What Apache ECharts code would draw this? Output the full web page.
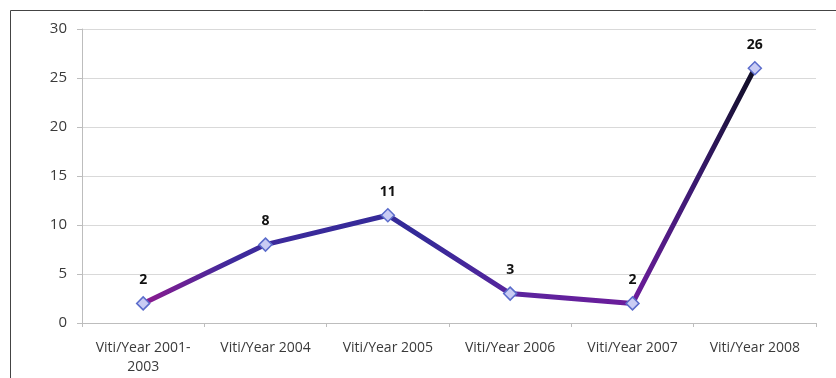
<!DOCTYPE html>
<html><head><meta charset="utf-8">
<script src="https://cdn.jsdelivr.net/npm/echarts@6/dist/echarts.min.js"></script>
<style>html,body{margin:0;padding:0;background:#fff}#c{width:836px;height:378px}</style>
</head><body><div id="c"></div>
<script>
const categories = ["Viti/Year 2001-2003","Viti/Year 2004","Viti/Year 2005","Viti/Year 2006","Viti/Year 2007","Viti/Year 2008"];
const values = [2, 8, 11, 3, 2, 26];
const yTicks = [0, 5, 10, 15, 20, 25, 30];

const chart = echarts.init(document.getElementById('c'));
chart.setOption({
  animation: false,
  grid: {left: 82, right: 20, top: 29, bottom: 55},
  graphic: [{type:'rect', shape:{x:10.5,y:10.5,width:840,height:400}, style:{fill:'none', stroke:'#444', lineWidth:1}, silent:true}],
  xAxis: {
    type: 'category', data: categories, boundaryGap: true,
    axisLine: {lineStyle: {color: '#bdbdbd'}},
    axisTick: {show: true, interval: 0, length: 4, lineStyle: {color: '#bdbdbd'}},
    axisLabel: {interval: 0, hideOverlap: false, color: '#3a3a3a', fontFamily: 'Open Sans', fontSize: 14, margin: 16, lineHeight: 19,
      formatter: v => v.replace('2001-', '2001-\n')}
  },
  yAxis: {
    type: 'value', min: yTicks[0], max: yTicks[yTicks.length-1], interval: 5,
    axisLine: {show: true, lineStyle: {color: '#bdbdbd'}},
    axisTick: {show: true, length: 5, lineStyle: {color: '#bdbdbd'}},
    splitLine: {lineStyle: {color: '#d9d9d9'}},
    axisLabel: {color: '#3a3a3a', fontFamily: 'Open Sans', fontSize: 15, margin: 15}
  },
  series: [{
    type: 'line', data: values,
    symbol: 'diamond', symbolSize: 13,
    itemStyle: {color: '#c9ccf4', borderColor: '#5b6ccb', borderWidth: 1.5},
    lineStyle: {width: 5, color: new echarts.graphic.LinearGradient(0, 0, 1, 0, [
      {offset: 0, color: '#8e1a8e'},
      {offset: 0.15, color: '#3e2a9c'},
      {offset: 0.45, color: '#332a98'},
      {offset: 0.62, color: '#5c249e'},
      {offset: 0.8, color: '#6c1c9a'},
      {offset: 0.9, color: '#3a1a70'},
      {offset: 1, color: '#0d0d20'}
    ])},
    label: {show: true, position: 'top', distance: 9, color: '#111', fontWeight: 'bold', fontFamily: 'Open Sans', fontSize: 14}
  }]
});
</script></body></html>
